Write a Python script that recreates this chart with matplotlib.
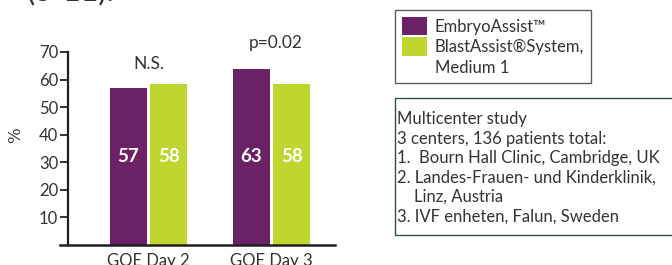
import matplotlib
matplotlib.use("Agg")
import matplotlib.pyplot as plt
from matplotlib.lines import Line2D
from matplotlib.patches import Rectangle, Patch
import numpy as np

# data
groups = ["GQE Day 2", "GQE Day 3"]
embryo_assist = [57.0, 64.0]
blast_assist = [58.3, 58.3]
embryo_labels = ["57", "63"]
blast_labels = ["58", "58"]
significance = ["N.S.", "p=0.02"]
yticks = [10, 20, 30, 40, 50, 60, 70]

PURPLE = "#6b2166"
GREEN = "#bfd630"
DARK = "#231f20"
TXT = "#333333"

plt.rcParams['font.family'] = ['Lato', 'DejaVu Sans']

W, H = 672, 265
fig = plt.figure(figsize=(W / 100, H / 100), dpi=100)


def fx(px):
    return px / W


def fy(py):
    return 1 - py / H


ax = fig.add_axes([fx(68), fy(245), fx(335) - fx(68), fy(52) - fy(245)])

x = np.arange(len(groups))
bw = 0.30
off = 0.165
b1 = ax.bar(x - off, embryo_assist, bw, color=PURPLE)
b2 = ax.bar(x + off, blast_assist, bw, color=GREEN)

for i in range(len(groups)):
    ax.text(x[i] - off, 32, embryo_labels[i], color="white", fontsize=13.5,
            fontweight="bold", ha="center", va="center")
    ax.text(x[i] + off, 32, blast_labels[i], color="white", fontsize=13.5,
            fontweight="bold", ha="center", va="center")

ax.text(x[0], 65.6, significance[0], ha="center", va="center", fontsize=12.5,
        color=TXT, clip_on=False)
ax.text(x[1] + 0.03, 73.4, significance[1], ha="center", va="center", fontsize=12.5,
        color=TXT, clip_on=False)

ax.set_xlim(-0.654, 1.516)
ax.set_ylim(0, 70)
ax.set_yticks(yticks)
ax.set_xticks(x)
ax.set_xticklabels(groups, fontsize=12, color=TXT)
ax.tick_params(axis="x", length=0, pad=6)
ax.tick_params(axis="y", length=6, width=1.3, color=DARK, labelsize=12,
               labelcolor=TXT, pad=1)

for s in ["top", "right", "bottom"]:
    ax.spines[s].set_visible(False)
ax.spines["left"].set_linewidth(1.6)
ax.spines["left"].set_color(DARK)
ax.add_line(Line2D([-8 / 267, 1], [0, 0], transform=ax.transAxes, color=DARK,
                   lw=1.8, clip_on=False))

fig.text(fx(16), fy(135), "%", rotation=90, fontsize=12, color=TXT,
         family="DejaVu Serif", ha="center", va="center")

# legend
blank = Patch(facecolor="none", edgecolor="none")
leg = fig.legend(handles=[b1.patches[0], b2.patches[0], blank],
                 labels=["EmbryoAssist™", "BlastAssist®System,", "Medium 1"],
                 loc="upper left", bbox_to_anchor=(fx(395), fy(10)),
                 fontsize=12, frameon=True, fancybox=False,
                 handlelength=1.5, handleheight=1.35, handletextpad=0.5,
                 labelspacing=0.12, borderpad=0.4, borderaxespad=0)
leg.get_frame().set_edgecolor(TXT)
leg.get_frame().set_linewidth(1.0)
for t in leg.get_texts():
    t.set_color(TXT)

# study info box
fig.patches.append(Rectangle((fx(395), fy(235)), fx(700) - fx(395), fy(98) - fy(235),
                             transform=fig.transFigure, fill=False,
                             edgecolor="#2f4f4f", lw=1.0))
info = ("Multicenter study\n"
        "3 centers, 136 patients total:\n"
        "1.  Bourn Hall Clinic, Cambridge, UK\n"
        "2. Landes-Frauen- und Kinderklinik,\n"
        "    Linz, Austria\n"
        "3. IVF enheten, Falun, Sweden")
fig.text(fx(397.5), fy(111), info, fontsize=12, color=TXT, va="top",
         ha="left", linespacing=1.27)

# cut-off text at the top of the crop
fig.text(fx(27), fy(0), "(3-11).", fontsize=22, color=TXT, va="baseline")

fig.savefig("out.png", dpi=100)
